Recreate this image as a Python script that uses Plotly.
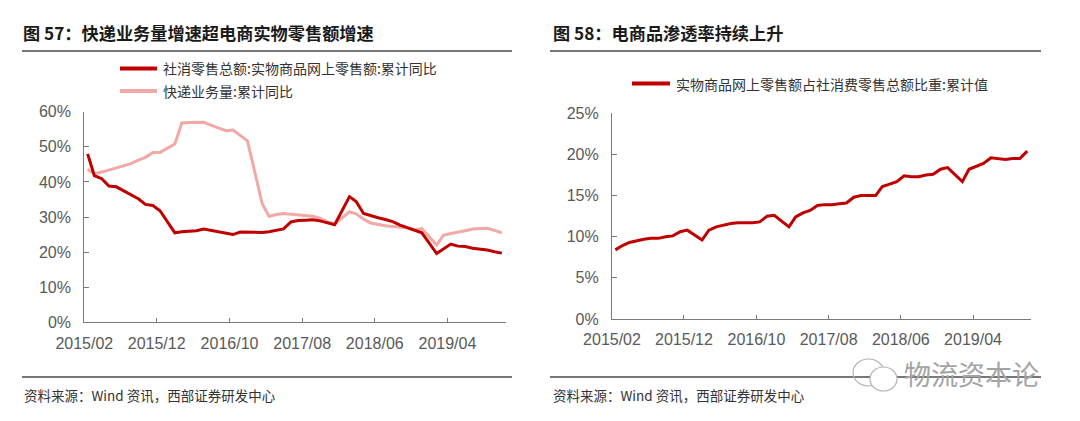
import plotly.graph_objects as go

# ---------------- data ----------------
months = [
    "2015-02", "2015-03", "2015-04", "2015-05", "2015-06", "2015-07", "2015-08", "2015-09", "2015-10", "2015-11", "2015-12",
    "2016-02", "2016-03", "2016-04", "2016-05", "2016-06", "2016-07", "2016-08", "2016-09", "2016-10", "2016-11", "2016-12",
    "2017-02", "2017-03", "2017-04", "2017-05", "2017-06", "2017-07", "2017-08", "2017-09", "2017-10", "2017-11", "2017-12",
    "2018-02", "2018-03", "2018-04", "2018-05", "2018-06", "2018-07", "2018-08", "2018-09", "2018-10", "2018-11", "2018-12",
    "2019-02", "2019-03", "2019-04", "2019-05", "2019-06", "2019-07", "2019-08", "2019-09", "2019-10", "2019-11",
]

online_goods_yoy = [
    48.0, 41.8, 40.9, 38.8, 38.6, 37.5, 36.4, 35.2, 33.6, 33.3, 31.8,
    25.5, 25.8, 25.9, 26.1, 26.6, 26.2, 25.8, 25.2, 25.0, 25.7, 25.6,
    25.6, 25.8, 26.2, 26.6, 28.6, 29.0, 29.1, 29.2, 28.9, 28.3, 27.8,
    35.8, 34.4, 31.0, 30.3, 29.8, 29.3, 28.7, 27.7, 27.0, 26.2, 25.5,
    19.6, 21.0, 22.3, 21.7, 21.6, 21.1, 20.9, 20.6, 20.1, 19.7,
]

express_volume_yoy = [
    43.6, 42.3, 42.8, 43.4, 44.0, 44.6, 45.2, 46.2, 47.0, 48.4, 48.4,
    50.8, 56.8, 56.9, 57.0, 57.0, 56.2, 55.3, 54.6, 54.8, 53.3, 51.7,
    33.7, 30.2, 30.7, 31.0, 30.8, 30.6, 30.5, 30.2, 29.6, 28.6, 28.0,
    31.5, 30.9, 29.4, 28.3, 27.8, 27.5, 27.3, 27.1, 26.9, 26.4, 26.7,
    22.0, 24.8, 25.3, 25.6, 26.1, 26.6, 26.8, 26.8, 26.2, 25.5,
]

online_share = [
    8.4, 8.9, 9.3, 9.5, 9.7, 9.8, 9.8, 10.0, 10.1, 10.6, 10.8,
    9.6, 10.8, 11.2, 11.4, 11.6, 11.7, 11.7, 11.7, 11.8, 12.5, 12.6,
    11.2, 12.4, 12.9, 13.2, 13.8, 13.9, 13.9, 14.0, 14.1, 14.8, 15.0,
    15.0, 16.1, 16.4, 16.7, 17.4, 17.3, 17.3, 17.5, 17.6, 18.2, 18.4,
    16.7, 18.2, 18.6, 18.9, 19.6, 19.5, 19.4, 19.5, 19.5, 20.4,
]

tick_months = ["2015-02", "2015-12", "2016-10", "2017-08", "2018-06", "2019-04"]
tick_labels = ["2015/02", "2015/12", "2016/10", "2017/08", "2018/06", "2019/04"]

name_online = "社消零售总额:实物商品网上零售额:累计同比"
name_express = "快递业务量:累计同比"
name_share = "实物商品网上零售额占社消费零售总额比重:累计值"

title_left = "图 57：快递业务量增速超电商实物零售额增速"
title_right = "图 58：电商品渗透率持续上升"
source_text = "资料来源：Wind 资讯，西部证券研发中心"
watermark = "物流资本论"

# ---------------- layout helpers ----------------
# the page body has an 8px margin, so the figure is offset by 8px
OFF = 8
W, H = 1080 - OFF, 421 - OFF
def px(x):
    return (x - OFF) / W
def py(y):
    return 1 - (y - OFF) / H

xdates = [m + "-15" for m in months]
tickvals = [m + "-01" for m in tick_months]

DARK_RED = "#C00000"
PINK = "#F2A9A6"
AXIS = "#7a7a7a"
TICKFONT = dict(family="Liberation Sans, Arial, sans-serif", size=16, color="#595959")
CJK = "Noto Sans CJK SC, sans-serif"

fig = go.Figure()
fig.add_trace(go.Scatter(x=xdates, y=express_volume_yoy, mode="lines", name=name_express,
                         line=dict(color=PINK, width=3), xaxis="x", yaxis="y"))
fig.add_trace(go.Scatter(x=xdates, y=online_goods_yoy, mode="lines", name=name_online,
                         line=dict(color=DARK_RED, width=3), xaxis="x", yaxis="y"))
fig.add_trace(go.Scatter(x=xdates, y=online_share, mode="lines", name=name_share,
                         line=dict(color=DARK_RED, width=3), xaxis="x2", yaxis="y2"))

xcommon = dict(type="date", range=["2015-02-01", "2019-12-01"], tickmode="array",
               tickvals=tickvals, ticktext=tick_labels, ticks="inside", ticklen=4,
               tickcolor=AXIS, showline=True, linecolor=AXIS, linewidth=1.2,
               showgrid=False, zeroline=False, tickfont=TICKFONT, automargin=False,
               ticklabelstandoff=6)
ycommon = dict(ticks="inside", ticklen=5, tickcolor=AXIS, showline=True, linecolor=AXIS,
               linewidth=1.2, showgrid=False, zeroline=False, ticksuffix="%", tickfont=TICKFONT,
               automargin=False, ticklabelstandoff=9)

fig.update_layout(
    template="none",
    width=W, height=H, margin=dict(l=0, r=0, t=0, b=0, pad=0),
    paper_bgcolor="white", plot_bgcolor="white", showlegend=False,
    xaxis=dict(domain=[px(84.3), px(505.7)], anchor="y", **xcommon),
    yaxis=dict(domain=[py(322.3), py(111.7)], anchor="x", range=[0, 60], dtick=10, **ycommon),
    xaxis2=dict(domain=[px(612), px(1031)], anchor="y2", **xcommon),
    yaxis2=dict(domain=[py(319), py(113.3)], anchor="x2", range=[0, 25], dtick=5, **ycommon),
)

shapes = []
annots = []
# title underlines and footer lines
for (x0, x1) in [(22, 512), (550, 1041)]:
    shapes.append(dict(type="line", xref="paper", yref="paper", x0=px(x0), x1=px(x1),
                       y0=py(51), y1=py(51), line=dict(color="#4a4a4a", width=1.5)))
    shapes.append(dict(type="line", xref="paper", yref="paper", x0=px(x0), x1=px(x1),
                       y0=py(377), y1=py(377), line=dict(color="#4a4a4a", width=1.5)))

# titles
annots.append(dict(text="<b>" + title_left + "</b>", x=px(21), y=py(33), xref="paper", yref="paper",
                   xanchor="left", yanchor="middle", showarrow=False,
                   font=dict(family=CJK, size=17.2, color="#1a1a1a")))
annots.append(dict(text="<b>" + title_right + "</b>", x=px(551), y=py(33), xref="paper", yref="paper",
                   xanchor="left", yanchor="middle", showarrow=False,
                   font=dict(family=CJK, size=17.2, color="#1a1a1a")))

# legends (manual)
legend_items = [
    (120, 157, 68.5, DARK_RED, name_online),
    (120, 157, 91, PINK, name_express),
    (632, 670, 83.5, DARK_RED, name_share),
]
for (x0, x1, yy, col, txt) in legend_items:
    shapes.append(dict(type="line", xref="paper", yref="paper", x0=px(x0), x1=px(x1),
                       y0=py(yy), y1=py(yy), line=dict(color=col, width=4)))
    annots.append(dict(text=txt, x=px(x1 + 4), y=py(yy), xref="paper", yref="paper",
                       xanchor="left", yanchor="middle", showarrow=False,
                       font=dict(family=CJK, size=14, color="#333333")))

# sources
for xs in (22, 551):
    annots.append(dict(text=source_text, x=px(xs), y=py(395), xref="paper", yref="paper",
                       xanchor="left", yanchor="middle", showarrow=False,
                       font=dict(family=CJK, size=13.5, color="#333333")))

# watermark (wechat-like bubbles + account name)
shapes.append(dict(type="circle", xref="paper", yref="paper", x0=px(853), x1=px(884),
                   y0=py(386), y1=py(359), line=dict(color="#b5b5b5", width=1.2)))
shapes.append(dict(type="circle", xref="paper", yref="paper", x0=px(870), x1=px(897),
                   y0=py(391), y1=py(367), line=dict(color="#b5b5b5", width=1.2),
                   fillcolor="white"))
annots.append(dict(text=watermark, x=px(902), y=py(373), xref="paper", yref="paper",
                   xanchor="left", yanchor="middle", showarrow=False,
                   font=dict(family=CJK, size=27, color="#a4a4a4")))

fig.update_layout(shapes=shapes, annotations=annots)
fig.write_html("out.html")
